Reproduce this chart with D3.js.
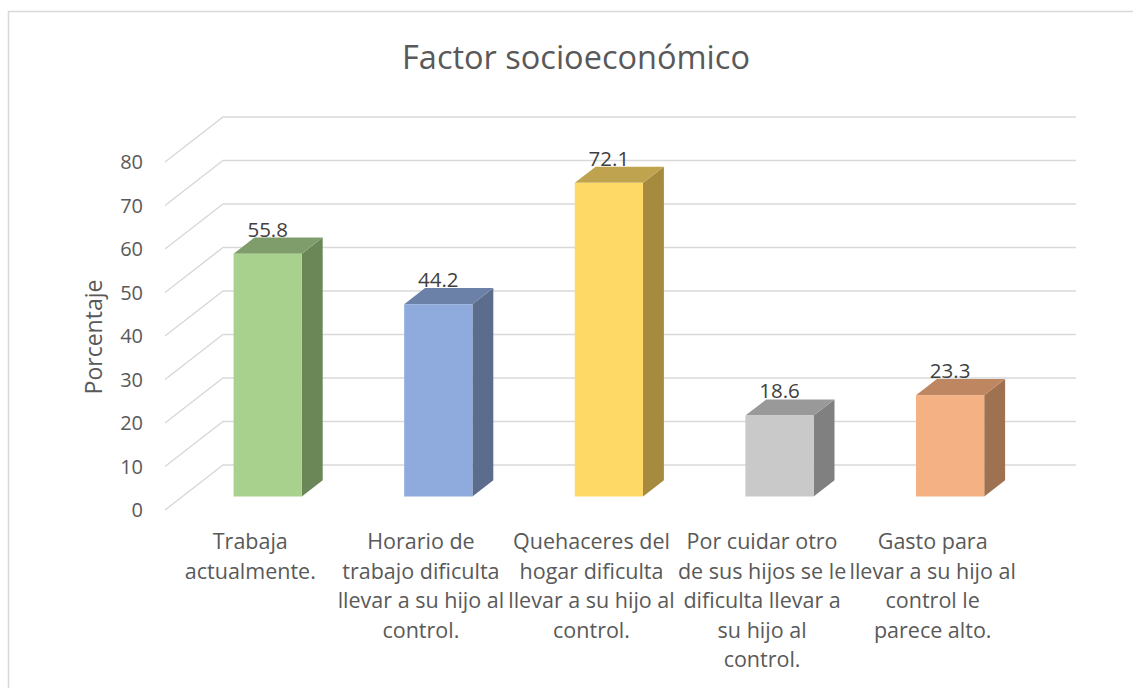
<!DOCTYPE html>
<html>
<head>
    <script src="https://d3js.org/d3.v7.min.js"></script>
    <style>
        body { margin: 0; background: #fff; }
        text { font-family: "Open Sans", "Noto Sans", sans-serif; fill: #595959; }
    </style>
</head>
<body>
    <div id="chart"></div>
    <script>
        // data
        const categories = [
            ["Trabaja", "actualmente."],
            ["Horario de", "trabajo dificulta", "llevar a su hijo al", "control."],
            ["Quehaceres del", "hogar dificulta", "llevar a su hijo al", "control."],
            ["Por cuidar otro", "de sus hijos se le", "dificulta llevar a", "su hijo al", "control."],
            ["Gasto para", "llevar a su hijo al", "control le", "parece alto."]
        ];
        const values = [55.8, 44.2, 72.1, 18.6, 23.3];
        const yTicks = [0, 10, 20, 30, 40, 50, 60, 70, 80];
        const frontColors = ["#A9D18E", "#8FAADC", "#FFD966", "#C9C9C9", "#F4B183"];
        const sideColors = ["#6B8758", "#5B6C8C", "#A68B3F", "#808080", "#9E7250"];
        const topColors = ["#7F9D6B", "#6C81A8", "#BFA34E", "#999999", "#BE8762"];

        const W = 1133, H = 688;
        const svg = d3.select("#chart").append("svg")
            .attr("width", W).attr("height", H);

        // chart border (only top/left visible in the crop)
        svg.append("rect")
            .attr("x", 8.5).attr("y", 11.5)
            .attr("width", W + 20).attr("height", H + 20)
            .attr("fill", "none").attr("stroke", "#d9d9d9").attr("stroke-width", 1.5);

        // depth of the 3d box
        const depthX = 58, depthY = 45;
        const barD0 = 0.3, barD1 = 0.66;

        const keys = categories.map(function (d, i) { return i; });
        const x = d3.scaleBand().domain(keys).range([165, 1018])
            .paddingInner(0.6).paddingOuter(0.3);
        const y = d3.scaleLinear().domain([0, 80]).range([510, 162]);

        // title
        svg.append("text")
            .attr("x", 576).attr("y", 69)
            .attr("text-anchor", "middle")
            .style("font-size", "32.5px")
            .text("Factor socioeconómico");

        // gridlines: diagonal on the side wall + horizontal on back wall
        svg.append("g").selectAll("path")
            .data(yTicks)
            .join("path")
            .attr("fill", "none")
            .attr("stroke", "#d9d9d9")
            .attr("stroke-width", 1.5)
            .attr("d", function (t) {
                const y0 = y(t);
                return "M165," + y0 + "L" + (165 + depthX) + "," + (y0 - depthY) + "L1076," + (y0 - depthY);
            });

        // y tick labels
        svg.append("g").selectAll("text")
            .data(yTicks)
            .join("text")
            .attr("x", 143)
            .attr("y", function (t) { return y(t); })
            .attr("dy", "0.35em")
            .attr("text-anchor", "end")
            .style("font-size", "20px")
            .text(function (t) { return t; });

        // y axis title
        svg.append("text")
            .attr("transform", "translate(102,337) rotate(-90)")
            .attr("text-anchor", "middle")
            .style("font-size", "23px")
            .text("Porcentaje");

        // bars
        const dx = (barD1 - barD0) * depthX, dy = (barD1 - barD0) * depthY;
        const bars = svg.append("g").selectAll("g")
            .data(values)
            .join("g");

        function geom(v, i) {
            const x0 = x(i) + barD0 * depthX;
            const x1 = x0 + x.bandwidth();
            const yb = y(0) - barD0 * depthY;
            const yt = y(v) - barD0 * depthY;
            return { x0: x0, x1: x1, yb: yb, yt: yt };
        }

        bars.append("path")
            .attr("fill", function (v, i) { return sideColors[i]; })
            .attr("d", function (v, i) {
                const g = geom(v, i);
                return "M" + g.x1 + "," + g.yt + "L" + (g.x1 + dx) + "," + (g.yt - dy) +
                    "L" + (g.x1 + dx) + "," + (g.yb - dy) + "L" + g.x1 + "," + g.yb + "Z";
            });

        bars.append("path")
            .attr("fill", function (v, i) { return topColors[i]; })
            .attr("d", function (v, i) {
                const g = geom(v, i);
                return "M" + g.x0 + "," + g.yt + "L" + g.x1 + "," + g.yt +
                    "L" + (g.x1 + dx) + "," + (g.yt - dy) + "L" + (g.x0 + dx) + "," + (g.yt - dy) + "Z";
            });

        bars.append("rect")
            .attr("fill", function (v, i) { return frontColors[i]; })
            .attr("x", function (v, i) { return geom(v, i).x0; })
            .attr("y", function (v, i) { return geom(v, i).yt; })
            .attr("width", x.bandwidth())
            .attr("height", function (v, i) { const g = geom(v, i); return g.yb - g.yt; });

        // value labels
        bars.append("text")
            .attr("x", function (v, i) { return geom(v, i).x0 + x.bandwidth() / 2; })
            .attr("y", function (v, i) { return geom(v, i).yt - dy - 1; })
            .attr("text-anchor", "middle")
            .style("font-size", "20.5px")
            .style("fill", "#404040")
            .text(function (v) { return v.toFixed(1); });

        // category labels
        const catLabels = svg.append("g").selectAll("text")
            .data(categories)
            .join("text")
            .attr("text-anchor", "middle")
            .style("font-size", "21.5px");

        catLabels.selectAll("tspan")
            .data(function (lines, i) { return lines.map(function (l) { return { l: l, i: i }; }); })
            .join("tspan")
            .attr("x", function (d) { return x(d.i) + x.bandwidth() / 2; })
            .attr("y", function (d, j) { return 549 + j * 29.5; })
            .text(function (d) { return d.l; });
    </script>
</body>
</html>
